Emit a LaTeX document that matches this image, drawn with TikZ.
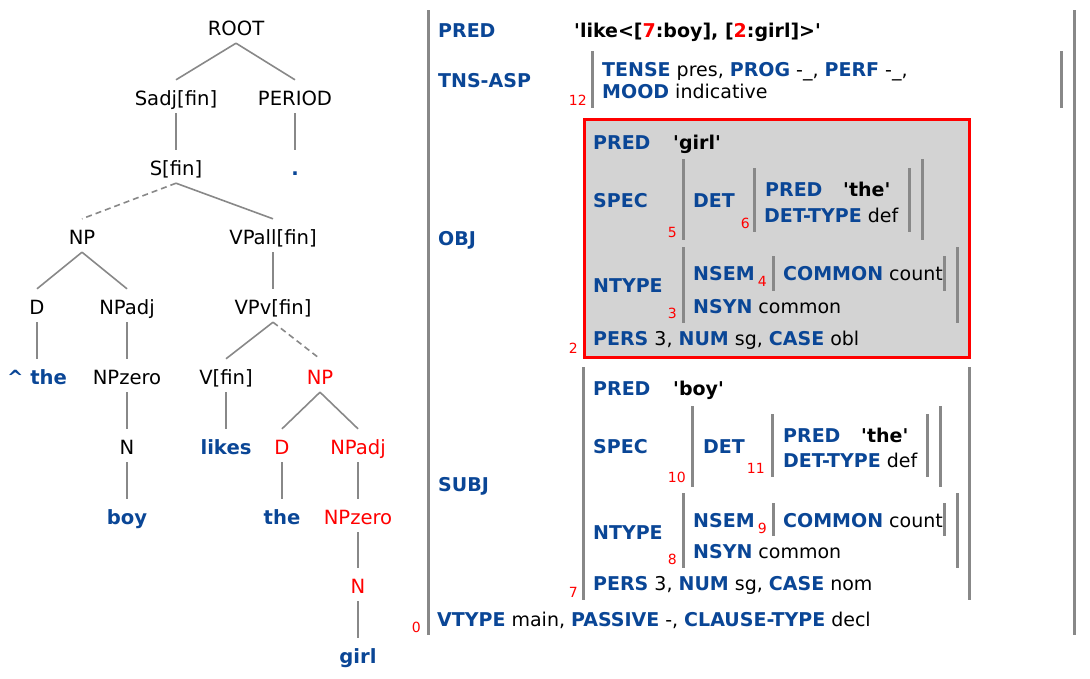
\documentclass[tikz,border=0pt]{standalone}
\usepackage{fontspec}
\setmainfont{DejaVu Sans}[Ligatures=TeXOff]
\definecolor{fblue}{RGB}{10,70,150}
\definecolor{lgray}{HTML}{888888}
\definecolor{boxgray}{HTML}{D3D3D3}
\newcommand{\tsz}{\fontsize{19.6}{24}\selectfont}
\newcommand{\fsz}{\fontsize{19}{23}\selectfont}
\newcommand{\nsz}{\fontsize{14}{16}\selectfont}
\newcommand{\at}[1]{\textbf{\textcolor{fblue}{#1}}}
\newcommand{\rn}[1]{\textcolor{red}{#1}}
\begin{document}
\begin{tikzpicture}[x=1pt,y=-1pt,
 tn/.style={anchor=base, font=\tsz, text height=22pt, text depth=5pt, inner ysep=3pt, inner xsep=1pt},
 leaf/.style={tn, text=fblue, font=\tsz\bfseries},
 hl/.style={tn, text=red},
 te/.style={draw=lgray, line width=1.6pt},
 ted/.style={te, dash pattern=on 6pt off 4pt},
 fl/.style={anchor=base west, inner sep=0pt, font=\fsz},
 num/.style={anchor=base east, inner sep=0pt, font=\nsz, text=red},
 br/.style={draw=lgray, line width=3pt},
]
\useasboundingbox (0,0) rectangle (1090,678);
% ---------------- tree ----------------
\node[tn] (root) at (236,35) {ROOT};
\node[tn] (sadj) at (176,105) {Sadj[fin]};
\node[tn] (period) at (295,105) {PERIOD};
\node[tn] (sfin) at (176,175) {S[fin]};
\node[leaf] (dot) at (295,175) {.};
\node[tn] (np) at (82,244) {NP};
\node[tn] (vpall) at (273,244) {VPall[fin]};
\node[tn] (d) at (37,314) {D};
\node[tn] (npadj) at (127,314) {NPadj};
\node[tn] (vpv) at (273,314) {VPv[fin]};
\node[leaf] (the1) at (37,384) {\textasciicircum{} the};
\node[tn] (npzero) at (127,384) {NPzero};
\node[tn] (vfin) at (226,384) {V[fin]};
\node[hl] (np2) at (320,384) {NP};
\node[tn] (n) at (127,454) {N};
\node[leaf] (likes) at (226,454) {likes};
\node[hl] (d2) at (282,454) {D};
\node[hl] (npadj2) at (358,454) {NPadj};
\node[leaf] (boy) at (127,524) {boy};
\node[leaf] (the2) at (282,524) {the};
\node[hl] (npzero2) at (358,524) {NPzero};
\node[hl] (n2) at (358,593) {N};
\node[leaf] (girl) at (358,663) {girl};
\draw[te] (root.south) -- (sadj.north);
\draw[te] (root.south) -- (period.north);
\draw[te] (sadj.south) -- (sfin.north);
\draw[te] (period.south) -- (dot.north);
\draw[ted] (sfin.south) -- (np.north);
\draw[te] (sfin.south) -- (vpall.north);
\draw[te] (np.south) -- (d.north);
\draw[te] (np.south) -- (npadj.north);
\draw[te] (vpall.south) -- (vpv.north);
\draw[te] (d.south) -- (the1.north);
\draw[te] (npadj.south) -- (npzero.north);
\draw[te] (vpv.south) -- (vfin.north);
\draw[ted] (vpv.south) -- (np2.north);
\draw[te] (npzero.south) -- (n.north);
\draw[te] (vfin.south) -- (likes.north);
\draw[te] (np2.south) -- (d2.north);
\draw[te] (np2.south) -- (npadj2.north);
\draw[te] (n.south) -- (boy.north);
\draw[te] (d2.south) -- (the2.north);
\draw[te] (npadj2.south) -- (npzero2.north);
\draw[te] (npzero2.south) -- (n2.north);
\draw[te] (n2.south) -- (girl.north);
% ---------------- f-structure ----------------
\draw[br] (428,10) -- (428,635);
\draw[br] (1074,10) -- (1074,635);
\node[fl] (pred) at (438,37) {\at{PRED}};
\node[fl] (predv) at (574,37) {\textbf{'like<[\rn{7}:boy], [\rn{2}:girl]>'}};
\node[fl] (tns) at (438,87) {\at{TNS-ASP}};
\node[num] (n12) at (587,105) {12};
\draw[br] (592,51) -- (592,108);
\draw[br] (1061,51) -- (1061,108);
\node[fl] (tense) at (602,76) {\at{TENSE} pres, \at{PROG} -\_, \at{PERF} -\_,};
\node[fl] (mood) at (602,98) {\at{MOOD} indicative};
% OBJ
\node[fl] (obj) at (438,245) {\at{OBJ}};
\draw[draw=red, line width=3pt, fill=boxgray] (584,119) rectangle (969,357);
\node[fl] (opred) at (593,149) {\at{PRED}};
\node[fl] (ogirl) at (673,149) {\textbf{'girl'}};
\node[fl] (ospec) at (593,207) {\at{SPEC}};
\node[num] (n5) at (677,237) {5};
\draw[br] (683,159) -- (683,240);
\draw[br] (922,159) -- (922,240);
\node[fl] (odet) at (693,207) {\at{DET}};
\node[num] (n6) at (750,228) {6};
\draw[br] (754,168) -- (754,232);
\draw[br] (909,168) -- (909,232);
\node[fl] (odpred) at (765,196) {\at{PRED}};
\node[fl] (othe) at (843,196) {\textbf{'the'}};
\node[fl] (odtype) at (764,222) {\at{DET-TYPE} def};
\node[fl] (ontype) at (593,292) {\at{NTYPE}};
\node[num] (n3) at (677,318) {3};
\draw[br] (683,247) -- (683,323);
\draw[br] (957,247) -- (957,323);
\node[fl] (onsem) at (693,280) {\at{NSEM}};
\node[num] (n4) at (767,286) {4};
\draw[br] (773,256) -- (773,291);
\draw[br] (944,256) -- (944,291);
\node[fl] (ocommon) at (783,280) {\at{COMMON} count};
\node[fl] (onsyn) at (693,313) {\at{NSYN} common};
\node[fl] (opers) at (593,345) {\at{PERS} 3, \at{NUM} sg, \at{CASE} obl};
\node[num] (n2b) at (578,353) {2};
% SUBJ
\node[fl] (subj) at (438,491) {\at{SUBJ}};
\draw[br] (583,367) -- (583,600);
\draw[br] (969,367) -- (969,600);
\node[fl] (spred) at (593,395) {\at{PRED}};
\node[fl] (sboy) at (673,395) {\textbf{'boy'}};
\node[fl] (sspec) at (593,453) {\at{SPEC}};
\node[num] (n10) at (686,482) {10};
\draw[br] (692,406) -- (692,487);
\draw[br] (940,406) -- (940,487);
\node[fl] (sdet) at (703,453) {\at{DET}};
\node[num] (n11) at (765,473) {11};
\draw[br] (772,414) -- (772,477);
\draw[br] (927,414) -- (927,477);
\node[fl] (sdpred) at (783,442) {\at{PRED}};
\node[fl] (sthe) at (861,442) {\textbf{'the'}};
\node[fl] (sdtype) at (783,467) {\at{DET-TYPE} def};
\node[fl] (sntype) at (593,539) {\at{NTYPE}};
\node[num] (n8) at (677,564) {8};
\draw[br] (683,493) -- (683,568);
\draw[br] (957,493) -- (957,568);
\node[fl] (snsem) at (693,527) {\at{NSEM}};
\node[num] (n9) at (767,533) {9};
\draw[br] (773,503) -- (773,536);
\draw[br] (944,503) -- (944,536);
\node[fl] (scommon) at (783,527) {\at{COMMON} count};
\node[fl] (snsyn) at (693,558) {\at{NSYN} common};
\node[fl] (spers) at (593,590) {\at{PERS} 3, \at{NUM} sg, \at{CASE} nom};
\node[num] (n7) at (578,597) {7};
% bottom
\node[num] (n0) at (421,632) {0};
\node[fl] (vtype) at (437,626) {\at{VTYPE} main, \at{PASSIVE} -, \at{CLAUSE-TYPE} decl};
\end{tikzpicture}
\end{document}
